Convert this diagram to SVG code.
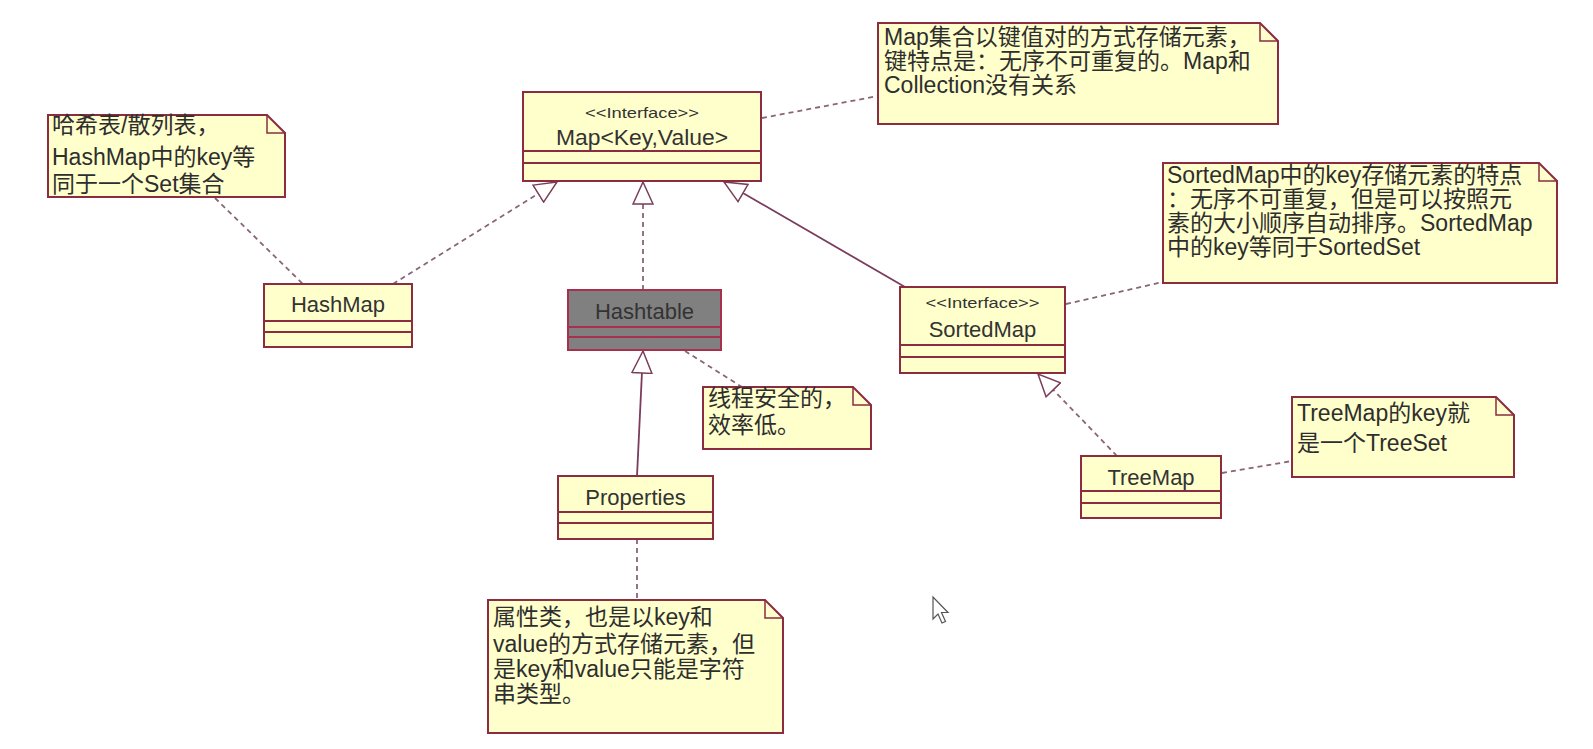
<svg xmlns="http://www.w3.org/2000/svg" width="1593" height="749" viewBox="0 0 1593 749">
<defs>
<style>
.box{fill:#ffffcc;stroke:#8b2c40;stroke-width:2}
.gray{fill:#808080;stroke:#a8304e;stroke-width:2}
.sep{stroke:#8b2c40;stroke-width:2;fill:none}
.sepg{stroke:#a8304e;stroke-width:2;fill:none}
.note{fill:#ffffcc;stroke:#8b2c40;stroke-width:2}
.fold{fill:none;stroke:#8b2c40;stroke-width:1.5}
.cn{font-family:"Liberation Sans",Arial,sans-serif;font-size:22px;fill:#333;text-anchor:middle}
.st{font-family:"Liberation Sans",Arial,sans-serif;font-size:15px;fill:#333;text-anchor:middle}
.nt{font-family:"Liberation Sans","Noto Sans CJK SC",sans-serif;font-size:23px;fill:#2e2e2e}
.solid{stroke:#7a3d5c;stroke-width:1.8;fill:none}
.dash{stroke:#8a6478;stroke-width:1.8;fill:none;stroke-dasharray:5,4}
</style>
<marker id="gen" viewBox="0 0 24 22" refX="23" refY="11" markerWidth="24" markerHeight="22" markerUnits="userSpaceOnUse" orient="auto">
<path d="M1,1 L23,11 L1,21 Z" fill="#ffffff" stroke="#7a3d5c" stroke-width="1.5" stroke-dasharray="none"/>
</marker>
</defs>
<rect width="1593" height="749" fill="#ffffff"/>

<g id="connectors">
<line class="dash" x1="393" y1="284" x2="557" y2="182" marker-end="url(#gen)"/>
<line class="dash" x1="643" y1="290" x2="643" y2="182" marker-end="url(#gen)"/>
<line class="solid" x1="905" y1="287" x2="724" y2="182" marker-end="url(#gen)"/>
<line class="solid" x1="637" y1="476" x2="643" y2="351" marker-end="url(#gen)"/>
<line class="dash" x1="1117" y1="456" x2="1038" y2="374" marker-end="url(#gen)"/>
<line class="dash" x1="215" y1="198" x2="303" y2="284"/>
<line class="dash" x1="762" y1="118" x2="878" y2="96"/>
<line class="dash" x1="1066" y1="304" x2="1163" y2="282"/>
<line class="dash" x1="685" y1="351" x2="742" y2="387"/>
<line class="dash" x1="637" y1="539" x2="637" y2="600"/>
<line class="dash" x1="1222" y1="473" x2="1292" y2="461"/>
</g>

<g id="Map">
<rect class="box" x="523" y="92" width="238" height="89"/>
<line class="sep" x1="523" y1="151" x2="761" y2="151"/>
<line class="sep" x1="523" y1="163" x2="761" y2="163"/>
<text class="st" x="642" y="118" textLength="114" lengthAdjust="spacingAndGlyphs">&lt;&lt;Interface&gt;&gt;</text>
<text class="cn" x="642" y="145" textLength="172" lengthAdjust="spacingAndGlyphs">Map&lt;Key,Value&gt;</text>
</g>

<g id="HashMap">
<rect class="box" x="264" y="284" width="148" height="63"/>
<line class="sep" x1="264" y1="321" x2="412" y2="321"/>
<line class="sep" x1="264" y1="332" x2="412" y2="332"/>
<text class="cn" x="338" y="312">HashMap</text>
</g>

<g id="Hashtable">
<rect class="gray" x="568" y="290" width="153" height="60"/>
<line class="sepg" x1="568" y1="327" x2="721" y2="327"/>
<line class="sepg" x1="568" y1="337" x2="721" y2="337"/>
<text class="cn" x="644.5" y="319">Hashtable</text>
</g>

<g id="SortedMap">
<rect class="box" x="900" y="287" width="165" height="86"/>
<line class="sep" x1="900" y1="345" x2="1065" y2="345"/>
<line class="sep" x1="900" y1="357" x2="1065" y2="357"/>
<text class="st" x="982.5" y="308" textLength="114" lengthAdjust="spacingAndGlyphs">&lt;&lt;Interface&gt;&gt;</text>
<text class="cn" x="982.5" y="337">SortedMap</text>
</g>

<g id="TreeMap">
<rect class="box" x="1081" y="456" width="140" height="62"/>
<line class="sep" x1="1081" y1="491" x2="1221" y2="491"/>
<line class="sep" x1="1081" y1="503" x2="1221" y2="503"/>
<text class="cn" x="1151" y="485">TreeMap</text>
</g>

<g id="Properties">
<rect class="box" x="558" y="476" width="155" height="63"/>
<line class="sep" x1="558" y1="512" x2="713" y2="512"/>
<line class="sep" x1="558" y1="523" x2="713" y2="523"/>
<text class="cn" x="635.5" y="505">Properties</text>
</g>

<g id="noteMap">
<path class="note" d="M878,23 H1260 L1278,41 V124 H878 Z"/>
<path class="fold" d="M1260,23 V41 H1278"/>
<text class="nt" x="884" y="45">Map集合以键值对的方式存储元素，</text>
<text class="nt" x="884" y="69">键特点是：无序不可重复的。Map和</text>
<text class="nt" x="884" y="93">Collection没有关系</text>
</g>

<g id="noteHashMap">
<path class="note" d="M48,115 H267 L285,133 V197 H48 Z"/>
<path class="fold" d="M267,115 V133 H285"/>
<text class="nt" x="52" y="133">哈希表/散列表，</text>
<text class="nt" x="52" y="165">HashMap中的key等</text>
<text class="nt" x="52" y="192">同于一个Set集合</text>
</g>

<g id="noteSortedMap">
<path class="note" d="M1163,163 H1539 L1557,181 V283 H1163 Z"/>
<path class="fold" d="M1539,163 V181 H1557"/>
<text class="nt" x="1167" y="183">SortedMap中的key存储元素的特点</text>
<text class="nt" x="1167" y="207">：无序不可重复，但是可以按照元</text>
<text class="nt" x="1167" y="231">素的大小顺序自动排序。SortedMap</text>
<text class="nt" x="1167" y="255">中的key等同于SortedSet</text>
</g>

<g id="noteHashtable">
<path class="note" d="M703,387 H853 L871,405 V449 H703 Z"/>
<path class="fold" d="M853,387 V405 H871"/>
<text class="nt" x="708" y="406">线程安全的，</text>
<text class="nt" x="708" y="433">效率低。</text>
</g>

<g id="noteTreeMap">
<path class="note" d="M1292,397 H1496 L1514,415 V477 H1292 Z"/>
<path class="fold" d="M1496,397 V415 H1514"/>
<text class="nt" x="1297" y="421">TreeMap的key就</text>
<text class="nt" x="1297" y="451">是一个TreeSet</text>
</g>

<g id="noteProperties">
<path class="note" d="M488,600 H765 L783,618 V733 H488 Z"/>
<path class="fold" d="M765,600 V618 H783"/>
<text class="nt" x="493" y="625">属性类，也是以key和</text>
<text class="nt" x="493" y="652">value的方式存储元素，但</text>
<text class="nt" x="493" y="677">是key和value只能是字符</text>
<text class="nt" x="493" y="702">串类型。</text>
</g>

<path d="M933,597 V619 L938,614 L942,623 L945.5,621.5 L941.5,612.5 L948,612.5 Z" fill="#ffffff" stroke="#555" stroke-width="1.2"/>
</svg>
